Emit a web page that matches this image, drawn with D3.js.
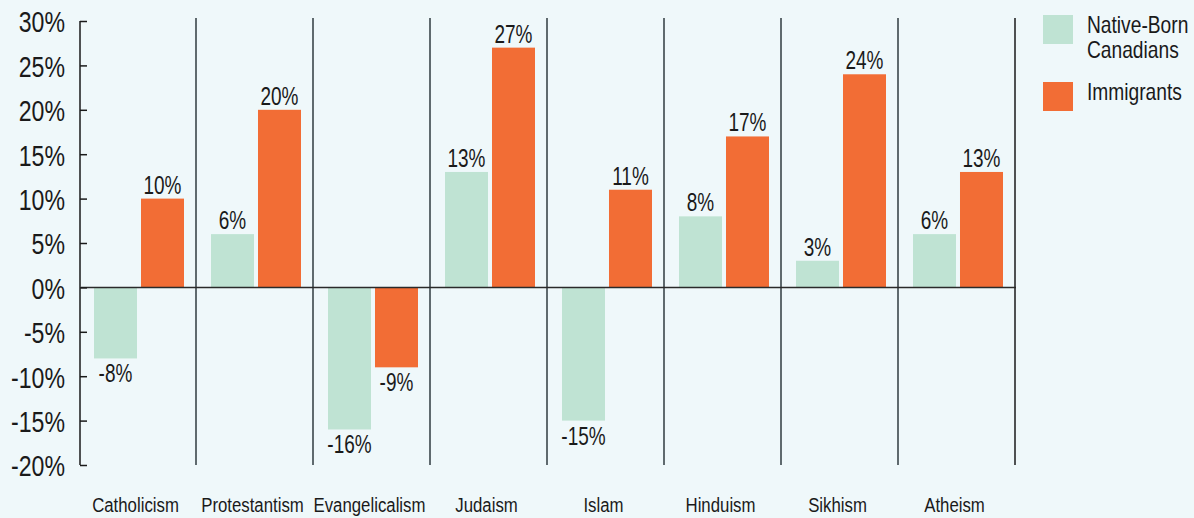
<!DOCTYPE html>
<html>
<head>
<meta charset="utf-8">
<script src="https://cdn.jsdelivr.net/npm/d3@7/dist/d3.min.js"></script>
<style>
  html, body { margin: 0; padding: 0; background: #eff8fa; }
  svg { display: block; }
  text { font-family: "Liberation Sans", Arial, sans-serif; fill: #1a1a1a; }
</style>
</head>
<body>
<svg id="chart" width="1194" height="518"></svg>
<script>
// Religion categories along the x axis
const categories = ["Catholicism", "Protestantism", "Evangelicalism", "Judaism", "Islam", "Hinduism", "Sikhism", "Atheism"];
// Series names (legend)
const seriesNames = ["Native-Born Canadians", "Immigrants"];
// Values in percent
const nativeBorn = [-8, 6, -16, 13, -15, 8, 3, 6];
const immigrants = [10, 20, -9, 27, 11, 17, 24, 13];
// Y axis ticks
const yTicks = [-20, -15, -10, -5, 0, 5, 10, 15, 20, 25, 30];

const colors = ["#bfe3d3", "#f26d35"];
const svg = d3.select("#chart");

// place a text at (x, y) with a condensed horizontal scale
function narrow(sel, fx, fy, k = 0.8) {
  sel.attr("x", 0).attr("y", 0)
     .attr("transform", (d, i) => `translate(${fx(d, i)},${fy(d, i)}) scale(${k},1)`);
}

const plotLeft = 79, plotRight = 1015;
const x = d3.scaleBand().domain(categories).range([plotLeft, plotRight]).paddingInner(0).paddingOuter(0);
const xs = d3.scaleBand().domain(seriesNames).range([15, 105]).paddingInner(0.085).paddingOuter(0);
const y = d3.scaleLinear().domain([-20, 30]).range([465, 21]);

const rows = categories.map((c, i) => ({ cat: c, vals: [nativeBorn[i], immigrants[i]] }));

// Category separators
svg.append("g")
  .selectAll("line")
  .data(categories)
  .join("line")
  .attr("x1", d => x(d) + x.bandwidth())
  .attr("x2", d => x(d) + x.bandwidth())
  .attr("y1", 18)
  .attr("y2", y(-20))
  .attr("stroke", (d, i) => i === categories.length - 1 ? "#1a1a1a" : "#5f6a6e")
  .attr("stroke-width", (d, i) => i === categories.length - 1 ? 1.5 : 2);

// Bars
const groups = svg.append("g")
  .selectAll("g")
  .data(rows)
  .join("g")
  .attr("transform", d => `translate(${x(d.cat)},0)`);

groups.selectAll("rect")
  .data(d => d.vals.map((v, j) => ({ v, s: seriesNames[j], j })))
  .join("rect")
  .attr("x", d => xs(d.s))
  .attr("width", xs.bandwidth())
  .attr("y", d => y(Math.max(0, d.v)))
  .attr("height", d => Math.abs(y(d.v) - y(0)))
  .attr("fill", d => colors[d.j]);

// Value labels
groups.selectAll("text")
  .data(d => d.vals.map((v, j) => ({ v, s: seriesNames[j], j })))
  .join("text")
  .attr("text-anchor", "middle")
  .attr("font-size", 25)
  .text(d => d.v + "%")
  .call(narrow,
        d => xs(d.s) + xs.bandwidth() / 2,
        d => d.v >= 0 ? y(d.v) - 5 : y(d.v) + 24,
        0.76);

// Zero line
svg.append("line")
  .attr("x1", plotLeft + 2).attr("x2", plotRight + 1)
  .attr("y1", y(0)).attr("y2", y(0))
  .attr("stroke", "#2a2a2a")
  .attr("stroke-width", 1.5);

// Y axis
const yAxis = d3.axisLeft(y)
  .tickValues(yTicks)
  .tickSize(-7)
  .tickPadding(15)
  .tickFormat(d => d + "%");

const yg = svg.append("g")
  .attr("transform", `translate(${plotLeft + 1},0)`)
  .call(yAxis);
yg.select(".domain").remove();
yg.append("line")
  .attr("x1", 0).attr("x2", 0)
  .attr("y1", y(30)).attr("y2", y(-20))
  .attr("stroke", "#1a1a1a").attr("stroke-width", 1.5);
yg.selectAll(".tick line").attr("stroke", "#1a1a1a").attr("stroke-width", 1.5);
yg.selectAll(".tick text")
  .attr("font-size", 30)
  .attr("fill", "#1a1a1a")
  .attr("font-family", "\"Liberation Sans\", Arial, sans-serif")
  .attr("dy", "0.36em")
  .call(narrow, () => -15, () => 0, 0.77);

// Category labels
svg.append("g")
  .selectAll("text")
  .data(categories)
  .join("text")
  .attr("text-anchor", "middle")
  .attr("font-size", 21)
  .text(d => d)
  .call(narrow, d => x(d) + x.bandwidth() / 2 - 2, () => 512);

// Legend
const legend = svg.append("g");
const legendItems = [
  { lines: ["Native-Born", "Canadians"], color: colors[0], top: 15 },
  { lines: ["Immigrants"], color: colors[1], top: 82 }
];
legendItems.forEach(item => {
  legend.append("rect")
    .attr("x", 1043).attr("y", item.top)
    .attr("width", 30).attr("height", 29)
    .attr("fill", item.color);
  legend.selectAll(null)
    .data(item.lines)
    .join("text")
    .attr("font-size", 24)
    .text(d => d)
    .call(narrow, () => 1087, (d, k) => item.top + 18 + k * 25, 0.8);
});
</script>
</body>
</html>
